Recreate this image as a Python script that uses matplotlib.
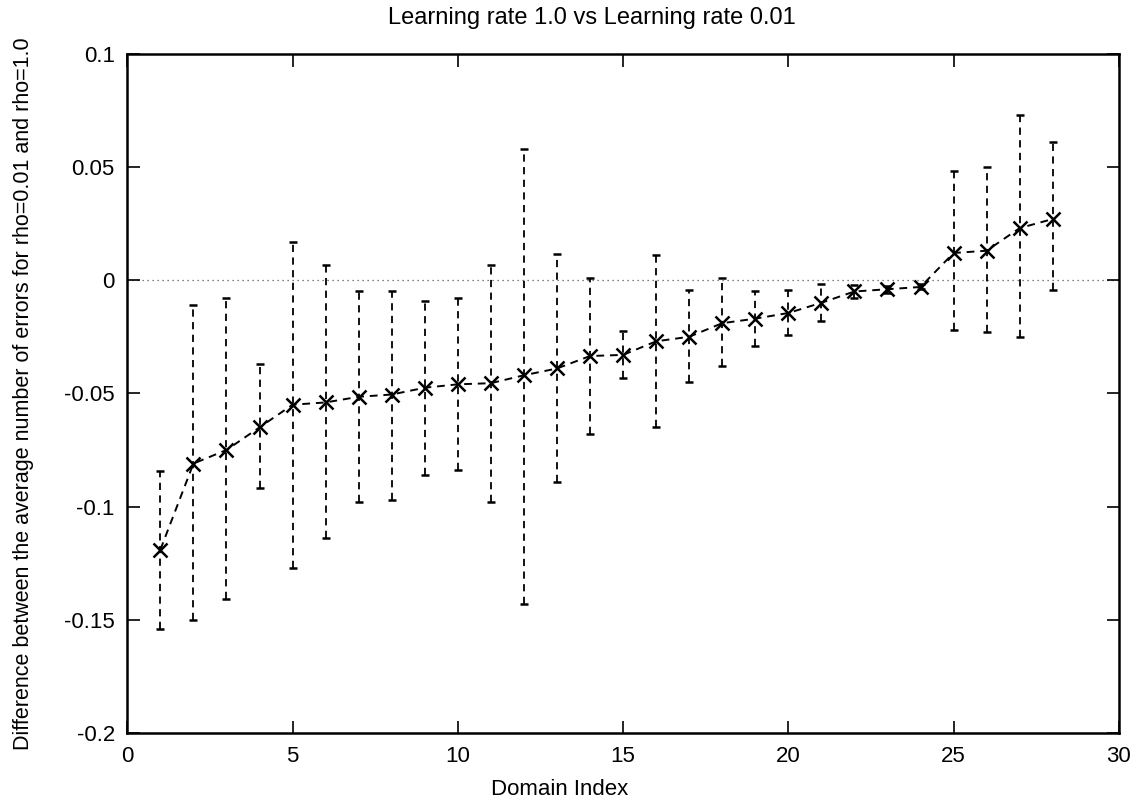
import matplotlib
matplotlib.use("Agg")
import matplotlib.pyplot as plt
import numpy as np

plt.rcParams['font.family'] = ['Liberation Sans', 'DejaVu Sans']
plt.rcParams['axes.unicode_minus'] = False

domain = list(range(1, 29))
diff = [-0.119, -0.081, -0.075, -0.065, -0.055, -0.054, -0.0515, -0.0505, -0.0475, -0.046,
        -0.0455, -0.042, -0.039, -0.0335, -0.033, -0.027, -0.025, -0.019, -0.017, -0.0145,
        -0.010, -0.005, -0.004, -0.003, 0.012, 0.013, 0.023, 0.027]
lower = [-0.154, -0.150, -0.141, -0.092, -0.127, -0.114, -0.098, -0.097, -0.086, -0.084,
         -0.098, -0.143, -0.089, -0.068, -0.043, -0.065, -0.045, -0.038, -0.029, -0.024,
         -0.018, -0.008, -0.0055, -0.004, -0.022, -0.023, -0.025, -0.0045]
upper = [-0.0845, -0.011, -0.008, -0.037, 0.017, 0.0065, -0.005, -0.005, -0.009, -0.008,
         0.0065, 0.058, 0.0115, 0.001, -0.0225, 0.011, -0.0045, 0.001, -0.005, -0.0045,
         -0.0015, -0.002, -0.0025, -0.0015, 0.048, 0.050, 0.073, 0.061]

x_ticks = [0, 5, 10, 15, 20, 25, 30]
y_ticks = [-0.2, -0.15, -0.1, -0.05, 0, 0.05, 0.1]
y_tick_labels = ['-0.2', '-0.15', '-0.1', '-0.05', '0', '0.05', '0.1']

d = np.array(diff)
yerr = np.vstack([d - np.array(lower), np.array(upper) - d])

fig = plt.figure(figsize=(11.37, 8.02), dpi=100)
ax = fig.add_axes([0.112, 0.086, 0.872, 0.847])

ax.axhline(0, color='#555555', linestyle=(0, (1, 3)), linewidth=0.9, zorder=1)

eb = ax.errorbar(domain, diff, yerr=yerr, fmt='x', color='black', ecolor='black',
                 elinewidth=1.3, capsize=3, capthick=1.3, markersize=10, markeredgewidth=1.8,
                 zorder=3)
for lc in eb[2]:
    lc.set_linestyle((0, (4, 3)))
ax.plot(domain, diff, color='black', linestyle=(0, (4, 3)), linewidth=1.4, zorder=2)

ax.set_xlim(0, 30)
ax.set_ylim(-0.2, 0.1)
ax.set_xticks(x_ticks)
ax.set_xticklabels([str(t) for t in x_ticks])
ax.set_yticks(y_ticks)
ax.set_yticklabels(y_tick_labels)
ax.tick_params(direction='in', length=9, width=1.2, top=True, right=True, labelsize=16, pad=9)
for s in ax.spines.values():
    s.set_linewidth(1.8)

fig.text(592 / 1137, 1 - 18 / 802, 'Learning rate 1.0 vs Learning rate 0.01',
         fontsize=17, ha='center', va='center')
ax.set_xlabel('Domain Index', fontsize=16)
ax.xaxis.set_label_coords((560 - 127) / (1119 - 127), -0.067)
ax.set_ylabel('Difference between the average number of errors for rho=0.01 and rho=1.0',
              fontsize=15.5, labelpad=22)

fig.savefig('out.png', dpi=100)
